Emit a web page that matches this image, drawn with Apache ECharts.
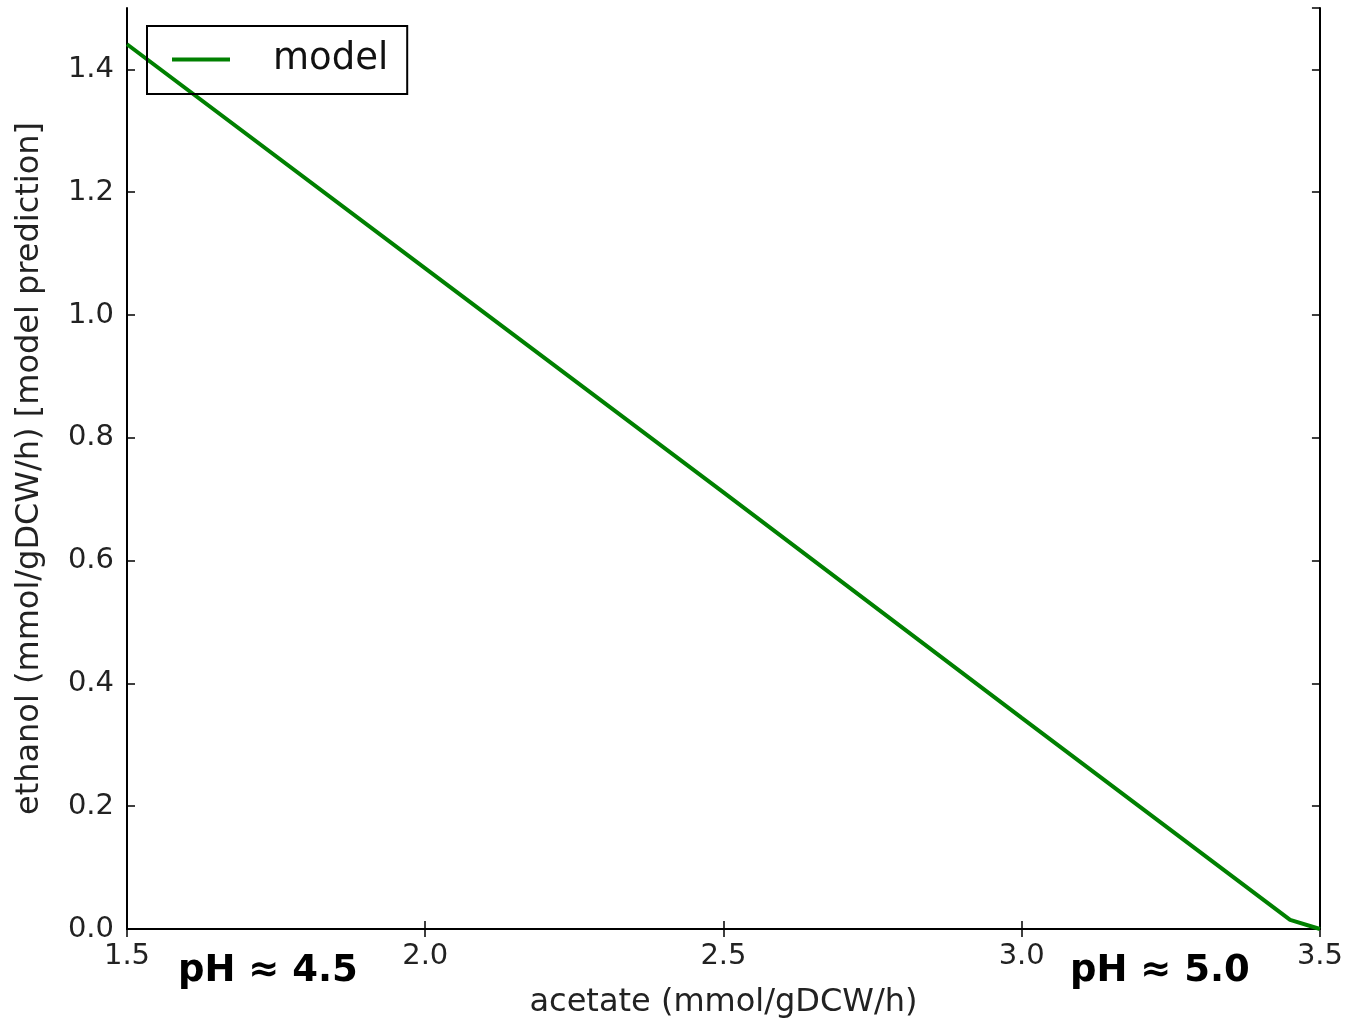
<!DOCTYPE html>
<html>
<head>
<meta charset="utf-8">
<script src="https://cdn.jsdelivr.net/npm/echarts@6/dist/echarts.min.js"></script>
<style>
  html, body { margin: 0; padding: 0; background: #fff; }
  #chart { width: 1346px; height: 1024px; }
</style>
</head>
<body>
<div id="chart"></div>
<script>
// model prediction: acetate (x) vs ethanol (y)
var acetate = [1.5, 2.0, 2.5, 3.0, 3.45, 3.5];
var ethanol = [1.441, 1.076, 0.711, 0.344, 0.015, 0.0];
var seriesName = 'model';
var phLabels = ['pH \u2248 4.5', 'pH \u2248 5.0'];

var chart = echarts.init(document.getElementById('chart'));
var font = 'DejaVu Sans';
var frame = { show: true, lineStyle: { color: '#000', width: 2 } };
var tickIn = { show: true, inside: true, length: 8, lineStyle: { color: '#000', width: 1.5 } };

var option = {
  backgroundColor: '#fff',
  animation: false,
  grid: { left: 127, right: 26, top: 8, bottom: 95 },
  legend: {
    data: [seriesName],
    left: 147, top: 26,
    orient: 'vertical',
    padding: [15, 19, 16, 25],
    borderColor: '#000', borderWidth: 2,
    itemWidth: 58, itemHeight: 30,
    icon: 'path://M0,13 L58,13 L58,17 L0,17 Z',
    textStyle: { fontFamily: font, fontSize: 37, color: '#111', padding: [0, 0, 0, 38] }
  },
  xAxis: [{
    type: 'value', min: 1.5, max: 3.5, interval: 0.5,
    name: 'acetate (mmol/gDCW/h)', nameLocation: 'middle', nameGap: 58,
    nameTextStyle: { fontFamily: font, fontSize: 32, color: '#222' },
    axisLine: frame, axisTick: tickIn, splitLine: { show: false },
    axisLabel: { fontFamily: font, fontSize: 29, color: '#222', margin: 13,
      formatter: function (v) { return v.toFixed(1); } }
  }, {
    type: 'value', position: 'top', min: 1.5, max: 3.5, interval: 0.5,
    axisLine: frame, axisTick: tickIn, axisLabel: { show: false }, splitLine: { show: false }
  }],
  yAxis: [{
    type: 'value', min: 0, max: 1.5, interval: 0.2,
    name: 'ethanol (mmol/gDCW/h) [model prediction]', nameLocation: 'middle', nameGap: 81,
    nameTextStyle: { fontFamily: font, fontSize: 32, color: '#222' },
    axisLine: frame, axisTick: tickIn, splitLine: { show: false },
    axisLabel: { fontFamily: font, fontSize: 29, color: '#222', margin: 13,
      showMaxLabel: false,
      formatter: function (v) { return v.toFixed(1); } }
  }, {
    type: 'value', position: 'right', min: 0, max: 1.5, interval: 0.2,
    axisLine: frame, axisTick: tickIn, axisLabel: { show: false }, splitLine: { show: false }
  }],
  graphic: [
    { type: 'text', left: 178, top: 953,
      style: { text: phLabels[0], font: 'bold 37px "DejaVu Sans"', fill: '#000' } },
    { type: 'text', left: 1070, top: 953,
      style: { text: phLabels[1], font: 'bold 37px "DejaVu Sans"', fill: '#000' } }
  ],
  series: [{
    name: seriesName, type: 'line',
    data: acetate.map(function (x, i) { return [x, ethanol[i]]; }),
    showSymbol: false, symbol: 'none',
    lineStyle: { color: '#008000', width: 4 },
    itemStyle: { color: '#008000' },
    clip: true
  }]
};
chart.setOption(option);
</script>
</body>
</html>
